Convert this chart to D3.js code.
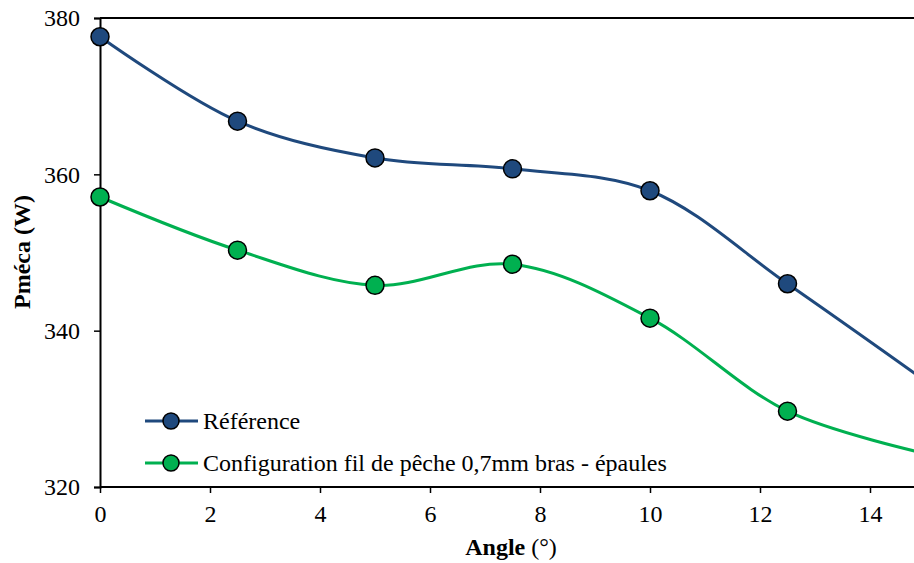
<!DOCTYPE html>
<html><head><meta charset="utf-8">
<script src="https://cdn.jsdelivr.net/npm/d3@7"></script>
<style>body{margin:0;background:#fff}svg{display:block}svg text{font-family:"Liberation Serif",serif !important}</style>
</head><body><svg id="c" width="914" height="563" font-family="Liberation Serif"></svg>
<script>
const angles = [0, 2.5, 5, 7.5, 10, 12.5, 15];
const reference = [377.6, 366.8, 362.1, 360.7, 357.9, 346.0, 333.6];
const fishingLine = [357.1, 350.3, 345.8, 348.5, 341.6, 329.7, 324.3];
const seriesNames = ["Référence", "Configuration fil de pêche 0,7mm bras - épaules"];
const seriesColors = ["#1F497D", "#00B050"];
const xTicks = [0, 2, 4, 6, 8, 10, 12, 14];
const yTicks = [320, 340, 360, 380];
const FONT = "'Liberation Serif', serif";

const svg = d3.select("#c");
const x = d3.scaleLinear().domain([0, 15]).range([100, 925]);
const y = d3.scaleLinear().domain([320, 380]).range([487, 18]);

svg.append("line").attr("x1",100).attr("x2",914).attr("y1",18).attr("y2",18).attr("stroke","#000").attr("stroke-width",2);

const xa = svg.append("g").attr("transform","translate(0,487)")
  .call(d3.axisBottom(x).tickValues(xTicks).tickSize(6).tickPadding(12).tickFormat(d3.format("d")));
const ya = svg.append("g").attr("transform","translate(100,0)")
  .call(d3.axisLeft(y).tickValues(yTicks).tickSize(6).tickPadding(14).tickFormat(d3.format("d")));
[xa, ya].forEach(g => {
  g.attr("font-family", FONT).attr("font-size", 24);
  g.select(".domain").attr("stroke","#000").attr("stroke-width",2);
  g.selectAll(".tick line").attr("stroke","#000").attr("stroke-width",1.5);
  g.selectAll(".tick text").attr("fill","#000").style("font-family",FONT).style("font-size","24px");
});
xa.select(".domain").attr("d","M100,0H914");

svg.append("clipPath").attr("id","pc").append("rect").attr("x",90).attr("y",0).attr("width",824).attr("height",563);
const plot = svg.append("g").attr("clip-path","url(#pc)");

const line = d3.line().x((d,i)=>x(angles[i])).y(d=>y(d)).curve(d3.curveCatmullRom.alpha(0.5));
[reference, fishingLine].forEach((vals, k) => {
  plot.append("path").attr("d", line(vals)).attr("fill","none").attr("stroke",seriesColors[k]).attr("stroke-width",3);
});
[reference, fishingLine].forEach((vals, k) => {
  plot.selectAll(null).data(vals).enter().append("circle")
    .attr("cx",(d,i)=>x(angles[i])).attr("cy",d=>y(d)).attr("r",9)
    .attr("fill",seriesColors[k]).attr("stroke","#000").attr("stroke-width",1.5);
});

seriesNames.forEach((n,k) => {
  const ly = 421 + k*42;
  svg.append("line").attr("x1",145).attr("x2",198).attr("y1",ly).attr("y2",ly).attr("stroke",seriesColors[k]).attr("stroke-width",3);
  svg.append("circle").attr("cx",171).attr("cy",ly).attr("r",8).attr("fill",seriesColors[k]).attr("stroke","#000").attr("stroke-width",1.5);
  svg.append("text").attr("x",203).attr("y",ly+8).style("font-family",FONT).style("font-size","24px").text(n);
});

const xt = svg.append("text").attr("x",511).attr("y",555).attr("text-anchor","middle").style("font-family",FONT).style("font-size","24px");
xt.append("tspan").attr("font-weight","bold").text("Angle");
xt.append("tspan").text(" (°)");
svg.append("text").attr("transform","translate(30,252) rotate(-90)").attr("text-anchor","middle").style("font-family",FONT).style("font-size","24px").attr("font-weight","bold").text("Pméca (W)");
</script></body></html>
